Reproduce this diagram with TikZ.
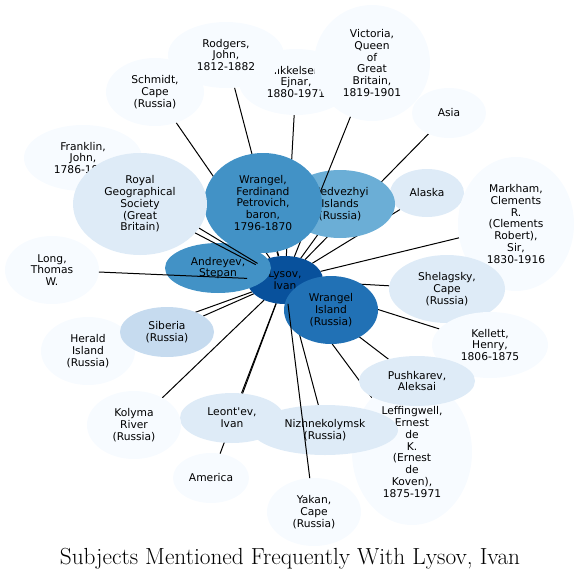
\documentclass[tikz,border=0pt]{standalone}
\usepackage{fontspec}
\newfontfamily\nodefont{DejaVu Sans}
\usetikzlibrary{shapes.geometric}
\definecolor{blues1}{HTML}{F7FBFF}
\definecolor{blues2}{HTML}{DEEBF7}
\definecolor{blues3}{HTML}{C6DBEF}
\definecolor{blues5}{HTML}{6BAED6}
\definecolor{blues6}{HTML}{4292C6}
\definecolor{blues7}{HTML}{2171B5}
\definecolor{blues8}{HTML}{08519C}
\pgfdeclarelayer{edges}
\pgfsetlayers{edges,main}

\begin{document}
\begin{tikzpicture}[x=1pt, y=-1pt,
    subj/.style n args={3}{ellipse, fill=#1, minimum width=#2, minimum height=#3,
        inner sep=0pt, outer sep=0pt, align=center,
        font=\nodefont\fontsize{10.7}{11.8}\selectfont},
    link/.style={line width=1pt}]
    \useasboundingbox (0,0) rectangle (580,582);

    % Nos de fundo
    \node[subj={blues1}{114}{66}] (ejnar) at (296,82) {Mikkelsen,\\Ejnar,\\1880-1971};
    \node[subj={blues1}{116}{66}] (rodgers) at (226,55) {Rodgers,\\John,\\1812-1882};
    \node[subj={blues1}{116}{116}] (victoria) at (372,63) {Victoria,\\Queen\\of\\Great\\Britain,\\1819-1901};
    \node[subj={blues1}{98}{68}] (schmidt) at (155,92) {Schmidt,\\Cape\\(Russia)};
    \node[subj={blues1}{74}{50}] (asia) at (449,113) {Asia};
    \node[subj={blues2}{74}{48}] (alaska) at (427,193) {Alaska};
    \node[subj={blues1}{116}{134}] (markham) at (516,224) {Markham,\\Clements\\R.\\(Clements\\Robert),\\Sir,\\1830-1916};
    \node[subj={blues2}{116}{68}] (shelagsky) at (447,289) {Shelagsky,\\Cape\\(Russia)};
    \node[subj={blues1}{116}{66}] (kellett) at (490,345) {Kellett,\\Henry,\\1806-1875};
    \node[subj={blues1}{120}{146}] (leffingwell) at (412,452) {Leffingwell,\\Ernest\\de\\K.\\(Ernest\\de\\Koven),\\1875-1971};
    \node[subj={blues2}{116}{50}] (pushkarev) at (417,381) {Pushkarev,\\Aleksai};
    \node[subj={blues2}{146}{50}] (nizhne) at (325,430) {Nizhnekolymsk\\(Russia)};
    \node[subj={blues2}{104}{50}] (leontev) at (232,418) {Leont'ev,\\Ivan};
    \node[subj={blues1}{76}{50}] (america) at (211,478) {America};
    \node[subj={blues1}{94}{68}] (kolyma) at (134,425) {Kolyma\\River\\(Russia)};
    \node[subj={blues1}{94}{68}] (herald) at (88,351) {Herald\\Island\\(Russia)};
    \node[subj={blues3}{94}{50}] (siberia) at (167,332) {Siberia\\(Russia)};
    \node[subj={blues1}{94}{68}] (long) at (52,270) {Long,\\Thomas\\W.};
    \node[subj={blues1}{118}{66}] (franklin) at (83,158) {Franklin,\\John,\\1786-1847};

    % Centro
    \node[subj={blues8}{76}{48}] (lysov) at (285,280) {Lysov,\\Ivan};
    \node[subj={blues5}{110}{68}] (medvezhyi) at (340,204) {Medvezhyi\\Islands\\(Russia)};
    \draw[link] (lysov) -- (victoria);
    \node[subj={blues6}{118}{100}] (wrangelfp) at (263,203) {Wrangel,\\Ferdinand\\Petrovich,\\baron,\\1796-1870};
    \node[subj={blues6}{106}{50}] (andreyev) at (218,268) {Andreyev,\\Stepan};
    \draw[link] (lysov) -- (franklin);
    \node[subj={blues2}{134}{102}] (royalgeo) at (140,204) {Royal\\Geographical\\Society\\(Great\\Britain)};
    \draw[link] (lysov) -- (royalgeo);
    \draw[link] (lysov) -- (long);
    \node[subj={blues7}{94}{68}] (wrangelis) at (331,310) {Wrangel\\Island\\(Russia)};
    \node[subj={blues1}{94}{68}] (yakan) at (314,512) {Yakan,\\Cape\\(Russia)};
    \draw[link] (lysov) -- (yakan);

    % Arestas por baixo
    \begin{pgfonlayer}{edges}
        \foreach \n in {schmidt, rodgers, ejnar, asia, alaska, markham, shelagsky,
                kellett, pushkarev, leffingwell, nizhne, leontev, america, kolyma,
                herald, siberia, wrangelfp, medvezhyi, wrangelis, andreyev}
            \draw[link] (lysov) -- (\n);
    \end{pgfonlayer}

    % Titulo
    \node[font=\fontsize{23.3}{27}\selectfont] (title) at (290,559) {Subjects Mentioned Frequently With Lysov, Ivan};
\end{tikzpicture}
\end{document}
